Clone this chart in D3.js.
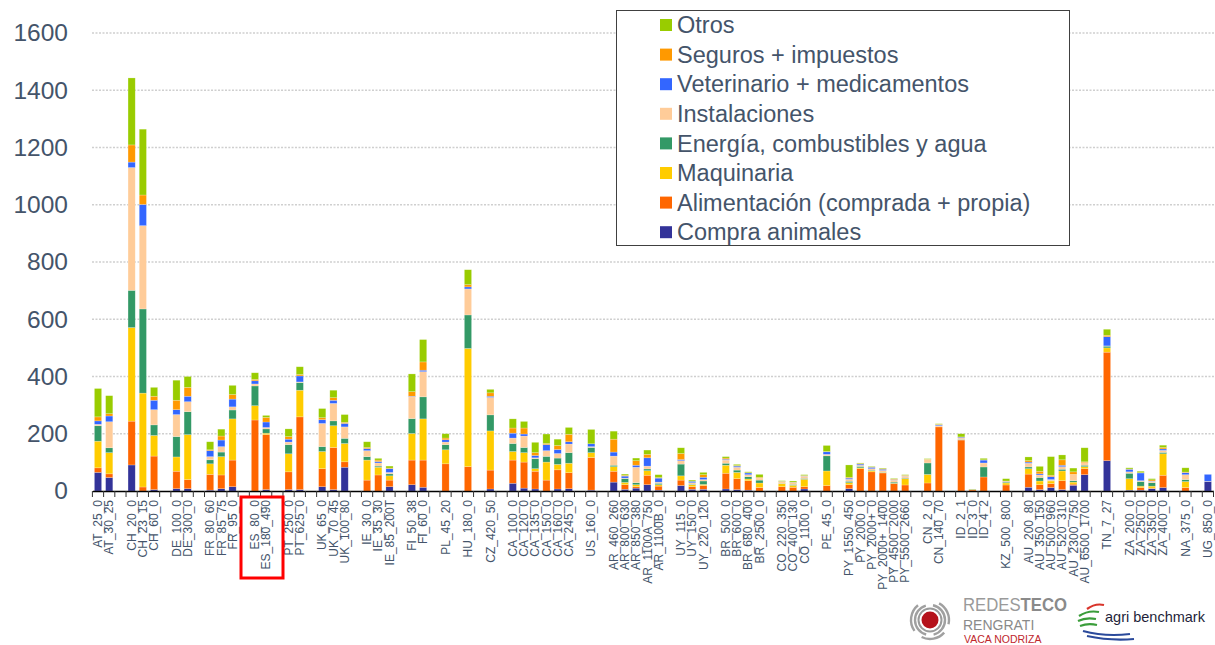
<!DOCTYPE html>
<html>
<head>
<meta charset="utf-8">
<script src="https://cdn.jsdelivr.net/npm/d3@7"></script>
<style>
body { margin: 0; background: #fff; }
svg { display: block; font-family: Arial, "Liberation Sans", sans-serif; }
</style>
</head>
<body>
<svg id="chart" width="1215" height="645"></svg>
<script>
// farm type codes, in chart order
var categories = ["AT_25_0","AT_30_25","CH_20_0","CH_23_15","CH_60_0","DE_100_0","DE_300_0",
  "FR_80_60","FR_85_75","FR_95_0","ES_80_0","ES_180_490","PT_250_0","PT_625_0",
  "UK_65_0","UK_70_45","UK_100_80","IE_30_0","IE_35_30","IE_85_200T","FI_50_38","FI_60_0",
  "PL_45_20","HU_180_0","CZ_420_50","CA_100_0","CA_120_0","CA_135_0","CA_150_0","CA_160_0","CA_245_0",
  "US_160_0","AR_460_260","AR_800_630","AR_850_380","AR_1100A_750","AR_1100B_0",
  "UY_115_0","UY_150_0","UY_220_120","BR_500_0","BR_600_0","BR_680_400","BR_2500_0",
  "CO_220_350","CO_400_130","CO_1100_0","PE_45_0","PY_1550_450","PY_2000_0","PY_2000+_0",
  "PY_2000+_1400","PY_4500_2000","PY_5500_2660","CN_2_0","CN_140_70","ID_2_1","ID_3_0","ID_4_2",
  "KZ_500_800","AU_200_80","AU_350_150","AU_500_960","AU_520_310","AU_2300_750","AU_6500_1700",
  "TN_7_27","ZA_200_0","ZA_250_0","ZA_350_0","ZA_400_0","NA_375_0","UG_850_0"];

// cost components
var compraAnimales = [65,47,91,0,5,8,8,3,8,15, 0,5,5,5,15,5,83,0,0,15, 22,13,0,0,7,27,10,7,0,7,
  8,3,31,6,10,22,3,19,6,6, 7,5,3,0,0,0,7,0,8,0, 0,0,0,0,0,0,0,0,0,0, 13,5,12,5,20,57,106,3,3,8, 12,0,33];
var alimentacion = [16,13,153,14,117,61,32,55,48,93, 248,192,62,254,63,147,19,38,56,23, 86,95,95,85,66,81,91,62,38,67,
  56,114,38,16,5,33,14,19,9,13, 55,38,33,12,15,13,8,19,14,78, 67,63,26,21,28,224,178,4,49,21, 46,17,14,31,4,21,379,0,9,2, 43,12,0];
var maquinaria = [93,74,327,328,72,50,157,37,64,144, 50,5,63,93,60,76,64,70,27,15, 93,144,49,413,137,30,33,9,63,19,
  33,17,16,8,7,16,5,15,7,4, 28,22,6,16,11,7,26,51,7,3, 4,2,1,22,30,0,0,2,0,7, 19,13,9,34,7,7,15,40,5,7, 75,21,0];
var energia = [54,17,130,294,37,71,80,14,16,31, 69,15,32,27,17,17,18,12,4,7, 52,77,18,117,56,28,18,35,20,22,
  37,18,5,13,7,6,5,41,2,12, 7,8,8,10,1,3,3,53,5,5, 2,1,4,2,40,0,2,1,35,3, 6,12,1,6,5,5,6,19,16,12, 5,7,0];
var instalaciones = [5,91,429,291,53,77,35,11,19,11, 7,5,9,2,81,61,40,21,11,5, 76,88,9,91,61,19,40,3,20,16,
  30,3,32,2,54,10,4,12,5,5, 11,10,7,7,5,6,8,5,7,4, 5,6,7,7,12,4,5,0,14,2, 13,9,4,9,22,9,1,5,3,5, 7,17,1];
var veterinario = [12,20,19,74,33,17,19,21,23,27, 11,19,10,21,13,11,12,7,5,13, 2,5,8,7,4,17,7,8,21,14,
  8,10,14,7,7,29,14,4,5,8, 3,4,6,0,1,1,1,9,4,4, 5,4,2,1,0,3,3,0,10,1, 4,4,10,5,0,0,32,9,27,1, 5,7,24];
var seguros = [14,8,60,33,14,33,31,3,14,16, 5,16,9,5,7,9,4,4,5,2, 16,29,6,8,12,18,21,10,4,14,
  26,0,45,3,16,12,2,21,0,9, 4,2,1,3,1,1,1,1,3,2, 1,2,2,2,1,2,1,0,1,1, 5,9,5,19,9,3,5,1,1,4, 5,2,0];
var otros = [99,63,234,230,31,70,38,28,24,32, 23,7,27,27,32,26,27,20,6,7, 62,78,15,52,12,32,23,36,33,22,
  24,50,28,4,9,15,10,20,4,8, 5,4,3,10,2,4,3,21,43,2, 2,2,2,2,2,2,11,0,5,8, 13,17,65,17,13,49,21,4,5,4, 8,15,0];

var yTicks = [0,200,400,600,800,1000,1200,1400,1600];

// stack order bottom -> top
var series = [
  {key: "compra", name: "Compra animales", color: "#333399", values: compraAnimales},
  {key: "alim", name: "Alimentación (comprada + propia)", color: "#FF6600", values: alimentacion},
  {key: "maq", name: "Maquinaria", color: "#FFCC00", values: maquinaria},
  {key: "energia", name: "Energía, combustibles y agua", color: "#339966", values: energia},
  {key: "inst", name: "Instalaciones", color: "#FFCC99", values: instalaciones},
  {key: "vet", name: "Veterinario + medicamentos", color: "#3366FF", values: veterinario},
  {key: "seg", name: "Seguros + impuestos", color: "#FF9900", values: seguros},
  {key: "otros", name: "Otros", color: "#99CC00", values: otros}
];

var rows = categories.map(function(c, i) {
  var r = {cat: c};
  series.forEach(function(s) { r[s.key] = s.values[i]; });
  return r;
});

// empty slot between countries
var slots = [];
categories.forEach(function(c, i) {
  if (i > 0 && c.split("_")[0] != categories[i-1].split("_")[0]) slots.push("gap" + i);
  slots.push(c);
});

var svg = d3.select("#chart");
svg.append("rect").attr("width", 1215).attr("height", 645).attr("fill", "#fff");

var x = d3.scaleBand().domain(slots).range([92.4, 1213.5]);
var y = d3.scaleLinear().domain([0, 1600]).range([491, 33]);
var textCol = "#44546a";

// gridlines
svg.append("g").selectAll("line")
  .data(yTicks.filter(function(d) { return d > 0; }))
  .enter().append("line")
    .attr("x1", 92).attr("x2", 1215)
    .attr("y1", function(d) { return y(d); }).attr("y2", function(d) { return y(d); })
    .attr("stroke", "#cfcfcf").attr("stroke-width", 1.5).attr("stroke-dasharray", "2,1.5");

// y axis labels
var yAxis = svg.append("g").attr("transform", "translate(92,0)")
  .call(d3.axisLeft(y).tickValues(yTicks).tickFormat(d3.format("d")).tickSize(0).tickPadding(24));
yAxis.select(".domain").remove();
yAxis.selectAll("text").attr("font-size", 24.5).attr("fill", textCol).attr("font-family", "Arial, 'Liberation Sans', sans-serif");

// bars
var stacked = d3.stack().keys(series.map(function(s) { return s.key; }))(rows);
var bw = x.bandwidth() * 0.64;
svg.append("g").selectAll("g")
  .data(stacked)
  .enter().append("g")
    .attr("fill", function(d, i) { return series[i].color; })
  .selectAll("rect")
  .data(function(d) { return d; })
  .enter().append("rect")
    .attr("x", function(d) { return x(d.data.cat) + (x.bandwidth() - bw) / 2; })
    .attr("width", bw)
    .attr("y", function(d) { return y(d[1]); })
    .attr("height", function(d) { return Math.max(0, y(d[0]) - y(d[1])); })
    .attr("stroke", "#fff").attr("stroke-opacity", 0.35).attr("stroke-width", 0.6);

// x axis
var xAxis = svg.append("g").attr("transform", "translate(0,491)")
  .call(d3.axisBottom(x).tickSize(0).tickPadding(9)
    .tickFormat(function(d) { return d.indexOf("gap") == 0 ? "" : d; }));
xAxis.select(".domain").attr("stroke", "#000").attr("stroke-width", 1.3);
xAxis.selectAll("text")
  .attr("font-size", 12).attr("fill", textCol)
  .attr("font-family", "Arial, 'Liberation Sans', sans-serif")
  .attr("transform", "rotate(-90)")
  .attr("text-anchor", "end")
  .attr("x", -9).attr("y", 0).attr("dy", "0.35em");
svg.append("g").selectAll("line")
  .data(slots.concat(["end"]))
  .enter().append("line")
    .attr("x1", function(d, i) { return x.range()[0] + i * x.step(); })
    .attr("x2", function(d, i) { return x.range()[0] + i * x.step(); })
    .attr("y1", 491).attr("y2", 497)
    .attr("stroke", "#333").attr("stroke-width", 1);

// highlight box around ES
svg.append("rect")
  .attr("x", 241).attr("y", 497).attr("width", 42).attr("height", 81)
  .attr("fill", "none").attr("stroke", "#ff0000").attr("stroke-width", 3);

// legend
var legend = svg.append("g");
legend.append("rect").attr("x", 616.5).attr("y", 10.5).attr("width", 453).attr("height", 235)
  .attr("fill", "#fff").attr("stroke", "#404040").attr("stroke-width", 1);
var leg = legend.selectAll("g.item")
  .data(series.slice().reverse())
  .enter().append("g").attr("class", "item")
    .attr("transform", function(d, i) { return "translate(660," + (25 + i * 29.6) + ")"; });
leg.append("rect").attr("x", 0).attr("y", -6).attr("width", 12).attr("height", 12)
  .attr("fill", function(d) { return d.color; });
leg.append("text").attr("x", 17).attr("y", 0).attr("dy", "0.35em")
  .attr("font-size", 23.5).attr("fill", textCol)
  .text(function(d) { return d.name; });

// logos
var logo = svg.append("g").attr("transform", "translate(930,620)");
logo.append("circle").attr("r", 8.5).attr("fill", "#b5121b");
logo.append("circle").attr("r", 11.5).attr("fill", "none").attr("stroke", "#9a9a9a").attr("stroke-width", 2);
var arc = d3.arc();
[[15, 0.2, 2.9], [15, 3.4, 6.0], [19, 0.5, 1.8], [19, 2.3, 3.6], [19, 4.1, 5.6]].forEach(function(a) {
  logo.append("path")
    .attr("d", arc({innerRadius: a[0] - 1.2, outerRadius: a[0] + 1.2, startAngle: a[1], endAngle: a[2]}))
    .attr("fill", "#a0a0a0");
});
var t1 = svg.append("text").attr("x", 963).attr("y", 611).attr("font-size", 18)
  .attr("textLength", 104).attr("lengthAdjust", "spacingAndGlyphs").attr("fill", "#9a9a9a");
t1.append("tspan").text("REDES");
t1.append("tspan").attr("font-weight", "bold").attr("fill", "#8a8a8a").text("TECO");
svg.append("text").attr("x", 963).attr("y", 630).attr("font-size", 14).attr("fill", "#8a8a8a").text("RENGRATI");
svg.append("text").attr("x", 964).attr("y", 643).attr("font-size", 10.5).attr("fill", "#c0272d").text("VACA NODRIZA");

var ab = svg.append("g");
[["M1087,609 Q1095,603 1104,605", "#d9342b"],
 ["M1079,616 Q1088,610 1099,612", "#3a9d3a"],
 ["M1078,621 Q1086,617 1096,619", "#3a9d3a"],
 ["M1080,626 Q1088,623 1097,625", "#3a9d3a"],
 ["M1083,631 Q1105,637 1130,634", "#2b4a9b"],
 ["M1087,636 Q1110,641 1134,639", "#2b4a9b"]].forEach(function(p) {
  ab.append("path").attr("d", p[0]).attr("fill", "none").attr("stroke", p[1]).attr("stroke-width", 2.2);
});
svg.append("text").attr("x", 1105).attr("y", 622).attr("font-size", 14.5)
  .attr("fill", "#1f1f3a").text("agri benchmark");
</script>
</body>
</html>
